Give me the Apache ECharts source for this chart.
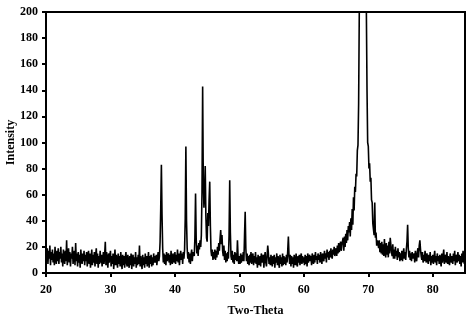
<!DOCTYPE html>
<html>
<head>
<meta charset="utf-8">
<script src="https://cdn.jsdelivr.net/npm/echarts@6/dist/echarts.min.js"></script>
<style>
html,body{margin:0;padding:0;background:#fff;}
#chart{width:474px;height:320px;}
</style>
</head>
<body>
<div id="chart"></div>
<script>
// Two-Theta grid: starts at 20, step 0.1 degree
var startAngle = 20;
var stepAngle = 0.1;
// Intensity values, one row per degree (20.0 ... 20.9, 21.0 ... etc.)
var intensity = [
23,13,19,7,17,11,21,6,16,10,
18,8,15,6,20,11,7,17,9,19,
7,16,11,20,8,15,5,18,12,7,
17,9,25,6,14,19,8,16,5,15,
11,20,7,14,17,6,23,9,15,5,
16,8,14,4,18,11,7,15,9,17,
6,14,9,16,5,13,17,7,15,4,
10,18,6,14,8,16,5,13,19,7,
15,4,13,7,17,8,14,5,10,16,
7,14,24,6,16,9,4,15,8,13,
17,5,13,7,15,3,10,18,6,14,
9,4,15,7,13,5,16,8,3,14,
6,13,4,12,16,7,5,14,8,4,
13,6,15,3,11,14,5,12,7,16,
4,12,6,14,7,21,5,13,8,3,
14,6,12,4,15,7,13,5,9,16,
4,13,7,14,5,12,6,15,8,13,
8,14,6,12,16,9,13,24,50,83,
44,19,8,15,7,14,6,16,9,13,
15,8,14,6,17,9,7,15,10,8,
16,7,14,9,18,8,15,6,13,17,
10,15,7,16,11,18,42,97,40,19,
11,16,8,15,7,14,18,9,16,17,
13,27,61,26,15,21,13,23,18,25,
20,29,62,143,72,50,62,82,44,27,
24,46,36,56,70,36,17,13,18,10,
16,11,18,10,17,12,20,14,23,17,
26,33,22,29,17,13,21,10,17,8,
15,9,16,11,29,71,31,13,10,17,
8,14,7,16,10,15,9,25,12,7,
13,7,15,8,14,9,16,9,29,47,
19,9,15,7,13,6,14,8,16,7,
12,15,6,13,8,16,7,12,4,14,
9,6,13,5,15,8,7,14,4,12,
16,8,5,13,21,15,7,12,6,14,
9,5,13,7,14,4,12,8,15,6,
13,8,4,14,7,12,5,15,6,13,
7,12,6,14,8,17,28,13,7,14,
5,13,7,12,4,14,8,6,15,7,
5,13,8,14,6,12,15,7,13,8,
12,6,14,7,13,5,15,8,7,14,
9,13,6,15,10,7,14,8,16,10,
13,7,15,10,14,8,16,11,7,15,
14,9,17,11,15,8,18,12,16,10,
17,12,19,13,11,18,14,20,13,17,
19,13,21,15,23,16,20,24,17,22,
21,27,17,28,20,30,23,33,25,36,
31,39,28,42,33,49,37,58,48,66,
62,76,74,94,98,130,200,320,520,780,
950,1000,900,650,420,300,250,200,140,100,
97,80,84,70,73,56,54,38,39,29,
54,27,31,21,25,23,19,25,16,23,
15,24,14,22,13,26,16,12,23,14,
21,12,24,15,27,26,16,13,22,11,
18,11,20,13,17,10,19,12,16,9,
15,10,17,9,14,19,11,16,10,18,
24,37,19,12,17,10,15,9,16,11,
10,15,8,17,11,9,16,19,12,21,
25,18,13,10,16,8,14,9,17,11,
8,15,10,7,14,9,16,6,13,8,
14,7,12,17,8,13,6,15,9,13,
7,14,9,5,15,8,13,18,7,12,
14,8,16,7,13,9,6,15,10,8,
13,7,15,9,17,6,12,14,8,16,
9,14,7,13,5,15,8,17,10,7,
12
];
var xTicks = [20, 30, 40, 50, 60, 70, 80];
var yTicks = [0, 20, 40, 60, 80, 100, 120, 140, 160, 180, 200];
var xTitle = 'Two-Theta';
var yTitle = 'Intensity';

var seriesData = intensity.map(function (v, i) {
  return [Math.round((startAngle + i * stepAngle) * 10) / 10, v];
});

var font = '"Liberation Serif", "Times New Roman", serif';
var chart = echarts.init(document.getElementById('chart'), null, {renderer: 'canvas'});
chart.setOption({
  animation: false,
  backgroundColor: '#fff',
  grid: {left: 46, right: 9, top: 12, bottom: 47, containLabel: false, outerBoundsMode: 'none',
    show: true, borderColor: '#000', borderWidth: 2, backgroundColor: 'transparent'},
  xAxis: {
    type: 'value', min: xTicks[0], max: 85, interval: 10,
    name: xTitle, nameLocation: 'middle', nameGap: 32, nameMoveOverlap: false,
    nameTextStyle: {fontFamily: font, fontWeight: 'bold', fontSize: 12, color: '#000'},
    axisLine: {lineStyle: {color: '#000', width: 2}},
    axisTick: {inside: false, length: 4, lineStyle: {color: '#000', width: 2}},
    axisLabel: {fontFamily: font, fontWeight: 'bold', fontSize: 12, color: '#000', margin: 11, showMaxLabel: false,
      formatter: function (v) { return xTicks.indexOf(v) >= 0 ? String(v) : ''; }},
    splitLine: {show: false}
  },
  yAxis: {
    type: 'value', min: yTicks[0], max: yTicks[yTicks.length - 1], interval: 20,
    name: yTitle, nameLocation: 'middle', nameGap: 29, nameRotate: 90, nameMoveOverlap: false,
    nameTextStyle: {fontFamily: font, fontWeight: 'bold', fontSize: 12, color: '#000'},
    axisLine: {show: true, lineStyle: {color: '#000', width: 2}},
    axisTick: {show: true, inside: false, length: 4, lineStyle: {color: '#000', width: 2}},
    axisLabel: {fontFamily: font, fontWeight: 'bold', fontSize: 12, color: '#000', margin: 8},
    splitLine: {show: false}
  },
  series: [{
    type: 'line',
    data: seriesData,
    showSymbol: false,
    symbol: 'none',
    sampling: null,
    clip: true,
    lineStyle: {color: '#000', width: 1.6},
    silent: true
  }]
});
</script>
</body>
</html>
